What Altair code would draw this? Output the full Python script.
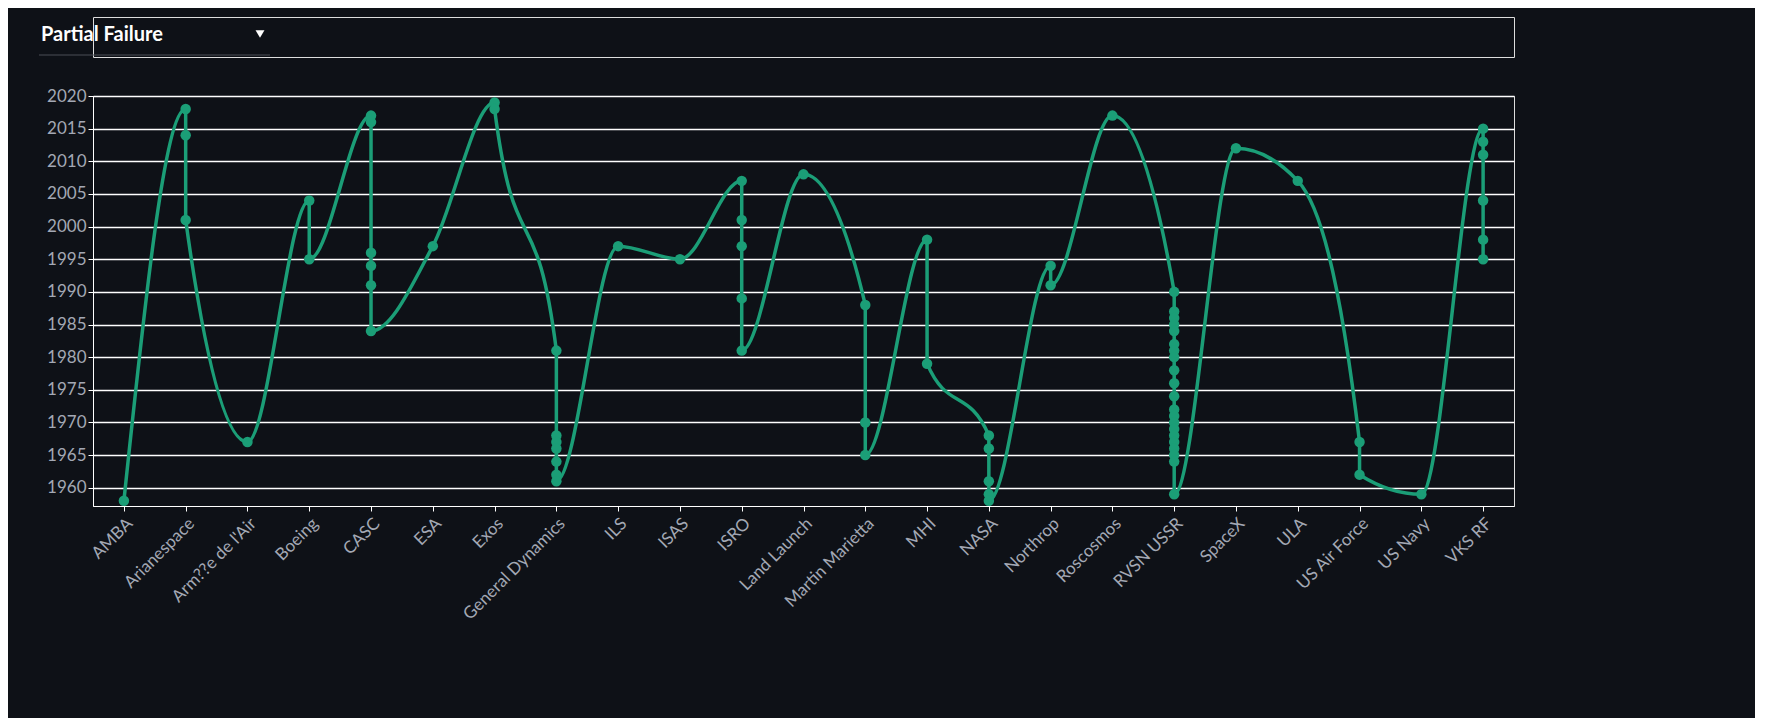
import altair as alt
import pandas as pd

companies = ["AMBA", "Arianespace", "Arm??e de l'Air", "Boeing", "CASC", "ESA", "Exos",
             "General Dynamics", "ILS", "ISAS", "ISRO", "Land Launch", "Martin Marietta", "MHI",
             "NASA", "Northrop", "Roscosmos", "RVSN USSR", "SpaceX", "ULA", "US Air Force",
             "US Navy", "VKS RF"]
years = [
    [1958],
    [2018, 2014, 2001],
    [1967],
    [2004, 1995],
    [2017, 2016, 1996, 1994, 1991, 1984],
    [1997],
    [2019, 2018],
    [1981, 1968, 1967, 1966, 1964, 1962, 1961],
    [1997],
    [1995],
    [2007, 2001, 1997, 1989, 1981],
    [2008],
    [1988, 1970, 1965],
    [1998, 1979],
    [1968, 1966, 1961, 1959, 1958],
    [1994, 1991],
    [2017],
    [1990, 1987, 1986, 1985, 1984, 1982, 1981, 1980, 1978, 1976, 1974, 1972, 1971, 1970,
     1969, 1968, 1967, 1966, 1965, 1964, 1959],
    [2012],
    [2007],
    [1967, 1962],
    [1959],
    [2015, 2013, 2011, 2004, 1998, 1995],
]

rows = []
i = 0
for c, ys in zip(companies, years):
    for y in ys:
        rows.append({"Company": c, "Year": y, "idx": i})
        i += 1
df = pd.DataFrame(rows)

green = "#1b9e77"
W, H = 1421, 410

x = alt.X("Company:N", sort=companies, scale=alt.Scale(type="point", padding=0.5),
          axis=alt.Axis(labelAngle=-45, title=None, grid=False, domainColor="#ffffff",
                        tickColor="#ffffff", labelColor="#a3a8b4", labelFontSize=17, labelPadding=4))
y = alt.Y("Year:Q", scale=alt.Scale(domain=[1957.2, 2020], nice=False, zero=False),
          axis=alt.Axis(values=list(range(1960, 2021, 5)), format="d", title=None,
                        gridColor="#ffffff", gridWidth=1.5, domainColor="#ffffff",
                        tickColor="#ffffff", labelColor="#a3a8b4", labelFontSize=17))

base = alt.Chart(df).encode(x=x, y=y, order="idx:Q")
line = base.mark_line(color=green, strokeWidth=3.5, interpolate="monotone")
pts = base.mark_circle(color=green, size=110, opacity=1)
main = (line + pts).properties(width=W, height=H)

hdr = alt.Chart(pd.DataFrame({"t": ["Partial Failure"]}))
htxt = hdr.mark_text(align="left", baseline="middle", fontSize=20, fontWeight="bold",
                     color="#ffffff", font="Lato").encode(
    text="t:N", x=alt.value(-52), y=alt.value(18))
htri = hdr.mark_point(shape="triangle-down", filled=True, size=80, color="#ffffff",
                      opacity=1).encode(x=alt.value(167), y=alt.value(17))
hrule = hdr.mark_rule(color="#4a4e57", strokeWidth=1).encode(
    x=alt.value(-54), x2=alt.value(177), y=alt.value(38))
top = (htxt + htri + hrule).properties(width=W, height=40)

chart = alt.vconcat(top, main, spacing=28).properties(
    background="#0e1117", padding={"left": 30, "top": 8, "right": 240, "bottom": 95}
).configure_view(strokeOpacity=0, strokeWidth=0).configure(font="Lato")

chart.save("out.html", embed_options={"renderer": "svg", "actions": False})
